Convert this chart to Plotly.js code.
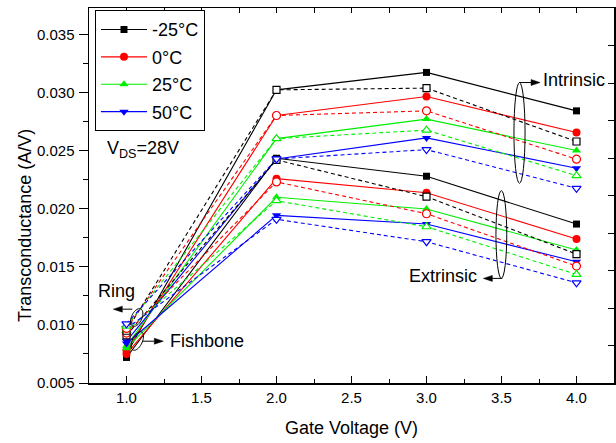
<!DOCTYPE html>
<html>
<head>
<meta charset="utf-8">
<script src="https://cdn.plot.ly/plotly-3.0.1.min.js"></script>
<style>
  html, body { margin: 0; padding: 0; background: #ffffff; }
  #chart { width: 616px; height: 443px; }
</style>
</head>
<body>
<div id="chart"></div>
<script>
// ---------------- data ----------------
const gateVoltage = [1.0, 2.0, 3.0, 4.0];
const tempLabels = ['-25°C', '0°C', '25°C', '50°C'];

// Intrinsic, fishbone device (solid lines, filled markers)
const intFishM25 = [0.0075, 0.03025, 0.03175, 0.02844];
const intFish0   = [0.0078, 0.02804, 0.02968, 0.02657];
const intFish25  = [0.0082, 0.02605, 0.02773, 0.02502];
const intFish50  = [0.0086, 0.02430, 0.02611, 0.02350];
// Intrinsic, ring device (dashed lines, open markers)
const intRingM25 = [0.0095, 0.03025, 0.03040, 0.02580];
const intRing0   = [0.0097, 0.02804, 0.02844, 0.02428];
const intRing25  = [0.0099, 0.02605, 0.02678, 0.02286];
const intRing50  = [0.0101, 0.02430, 0.02510, 0.02177];
// Extrinsic, fishbone device
const extFishM25 = [0.0072, 0.02436, 0.02281, 0.01869];
const extFish0   = [0.0075, 0.02260, 0.02139, 0.01740];
const extFish25  = [0.0080, 0.02100, 0.01999, 0.01645];
const extFish50  = [0.0084, 0.01944, 0.01869, 0.01544];
// Extrinsic, ring device
const extRingM25 = [0.0091, 0.02422, 0.02105, 0.01610];
const extRing0   = [0.0093, 0.02232, 0.01958, 0.01507];
const extRing25  = [0.0095, 0.02070, 0.01846, 0.01435];
const extRing50  = [0.0097, 0.01910, 0.01717, 0.01363];

// ---------------- styles ----------------
const colors = ['#000000', '#ff0000', '#00ee00', '#0000ff'];
const symbols = ['square', 'circle', 'triangle-up', 'triangle-down'];
const sizes = [7, 8, 8, 8];
const FONT = 'Liberation Sans, Arial, Helvetica, sans-serif';

const intFish = [intFishM25, intFish0, intFish25, intFish50];
const intRing = [intRingM25, intRing0, intRing25, intRing50];
const extFish = [extFishM25, extFish0, extFish25, extFish50];
const extRing = [extRingM25, extRing0, extRing25, extRing50];

function solidTrace(y, i, legend) {
  return {
    x: gateVoltage, y: y, type: 'scatter', mode: 'lines+markers',
    name: tempLabels[i], showlegend: legend, legendgroup: 'g' + i,
    line: { color: colors[i], width: 1.1 },
    marker: { symbol: symbols[i], size: sizes[i], color: colors[i], line: { width: 0 } },
    hoverinfo: 'x+y+name'
  };
}
function dashTrace(y, i) {
  return {
    x: gateVoltage, y: y, type: 'scatter', mode: 'lines+markers',
    name: tempLabels[i] + ' ring', showlegend: false, legendgroup: 'g' + i,
    line: { color: colors[i], width: 1.1, dash: '4px,3px' },
    marker: { symbol: symbols[i], size: sizes[i], color: '#ffffff', line: { color: colors[i], width: 1.2 } },
    hoverinfo: 'x+y+name'
  };
}

const traces = [];
for (let i = 0; i < 4; i++) traces.push(solidTrace(intFish[i], i, true));
for (let i = 0; i < 4; i++) traces.push(solidTrace(extFish[i], i, false));
for (let i = 0; i < 4; i++) traces.push(dashTrace(extRing[i], i));
for (let i = 0; i < 4; i++) traces.push(dashTrace(intRing[i], i));
// empty trace to carry the mirrored top / right frame axes
traces.push({ x: [], y: [], xaxis: 'x2', yaxis: 'y2', type: 'scatter', showlegend: false, hoverinfo: 'skip' });

// ---------------- layout helpers ----------------
const X_RANGE = [0.75, 4.25];
const Y_RANGE = [0.005, 0.0373];
const PLOT_W = 525, PLOT_H = 375;
const dxPerPx = (X_RANGE[1] - X_RANGE[0]) / PLOT_W;
const dyPerPx = (Y_RANGE[1] - Y_RANGE[0]) / PLOT_H;

// tilted ellipse path, centre in data units, radii in pixels
function ellipsePath(cx, cy, rxPx, ryPx, angDeg) {
  const a = angDeg * Math.PI / 180;
  let p = '';
  for (let k = 0; k <= 48; k++) {
    const t = 2 * Math.PI * k / 48;
    const ex = rxPx * Math.cos(t), ey = ryPx * Math.sin(t);
    const rx = ex * Math.cos(a) + ey * Math.sin(a);
    const ry = -ex * Math.sin(a) + ey * Math.cos(a);
    const X = cx + rx * dxPerPx, Y = cy + ry * dyPerPx;
    p += (k === 0 ? 'M' : 'L') + X.toFixed(5) + ',' + Y.toFixed(6);
  }
  return p + 'Z';
}
// horizontal arrow: head at (hx, hy) in data units, tail lenPx pixels away (dir +1 = tail to the right)
function arrowShapes(hx, hy, lenPx, dir) {
  const headLen = 9, headHalf = 3;
  const tailX = hx + dir * lenPx * dxPerPx;
  const baseX = hx + dir * headLen * dxPerPx;
  return [
    { type: 'line', xref: 'x', yref: 'y', x0: tailX, y0: hy, x1: baseX, y1: hy, line: { color: '#000', width: 1 } },
    { type: 'path', xref: 'x', yref: 'y',
      path: 'M' + hx + ',' + hy + 'L' + baseX + ',' + (hy + headHalf * dyPerPx) + 'L' + baseX + ',' + (hy - headHalf * dyPerPx) + 'Z',
      fillcolor: '#000', line: { color: '#000', width: 0.5 } }
  ];
}

const axFont = { family: FONT, size: 15, color: '#000' };
const txtFont = { family: FONT, size: 18, color: '#000' };

const shapes = [
  { type: 'circle', xref: 'x', yref: 'y', x0: 3.583, x1: 3.657, y0: 0.0222, y1: 0.03088, line: { color: '#000', width: 1 } },
  { type: 'circle', xref: 'x', yref: 'y', x0: 3.463, x1: 3.535, y0: 0.01401, y1: 0.02157, line: { color: '#000', width: 1 } },
  { type: 'path', xref: 'x', yref: 'y', path: ellipsePath(1.068, 0.01064, 5.2, 9.5, 25), line: { color: '#000', width: 1 } },
  { type: 'path', xref: 'x', yref: 'y', path: ellipsePath(1.072, 0.00862, 5.0, 10, 25), line: { color: '#000', width: 1 } }
].concat(
  arrowShapes(3.757, 0.03088, 21, -1),
  arrowShapes(3.379, 0.01401, 19, 1),
  arrowShapes(0.912, 0.01136, 19, 1),
  arrowShapes(1.2453, 0.0086, 21, -1)
);

const layout = {
  width: 616, height: 443,
  margin: { l: 89, r: 2, t: 8, b: 60, pad: 0 },
  paper_bgcolor: '#ffffff', plot_bgcolor: '#ffffff',
  font: { family: FONT, color: '#000' },
  showlegend: true,
  legend: {
    x: 0.0114, y: 0.994, xanchor: 'left', yanchor: 'top',
    bgcolor: '#ffffff', bordercolor: '#000000', borderwidth: 1,
    font: txtFont, tracegroupgap: 1, itemwidth: 46
  },
  xaxis: {
    range: X_RANGE, tick0: 1, dtick: 0.5, tickformat: '.1f',
    ticks: 'inside', ticklen: 7, tickwidth: 1, tickcolor: '#000',
    minor: { dtick: 0.25, tick0: 1, ticks: 'inside', ticklen: 4, tickwidth: 1, tickcolor: '#000', showgrid: false },
    showline: true, linewidth: 1.5, linecolor: '#000', mirror: false,
    showgrid: false, zeroline: false, tickfont: axFont,
    title: { text: 'Gate Voltage (V)', font: txtFont, standoff: 17 }
  },
  yaxis: {
    range: Y_RANGE, tick0: 0.005, dtick: 0.005, tickformat: '.3f',
    ticks: 'outside', ticklen: 9, tickwidth: 1, tickcolor: '#000',
    minor: { dtick: 0.0025, tick0: 0.005, ticks: 'outside', ticklen: 5, tickwidth: 1, tickcolor: '#000', showgrid: false },
    showline: true, linewidth: 1.5, linecolor: '#000', mirror: false,
    showgrid: false, zeroline: false, tickfont: axFont, ticklabelstandoff: 1
  },
  xaxis2: {
    overlaying: 'x', side: 'top', anchor: 'y2', range: X_RANGE, tick0: 1, dtick: 0.25,
    ticks: 'inside', ticklen: 5, tickwidth: 1, tickcolor: '#000', showticklabels: false,
    showline: true, linewidth: 1.5, linecolor: '#000', showgrid: false, zeroline: false
  },
  yaxis2: {
    overlaying: 'y', side: 'right', anchor: 'x2', range: [0, 10], tick0: 0, dtick: 1,
    ticks: 'inside', ticklen: 6, tickwidth: 1, tickcolor: '#000', showticklabels: false,
    showline: true, linewidth: 1.5, linecolor: '#000', showgrid: false, zeroline: false
  },
  shapes: shapes,
  annotations: [
    { xref: 'paper', yref: 'paper', x: -0.122, y: 0.421, text: 'Transconductance (A/V)', textangle: -90,
      showarrow: false, font: txtFont, xanchor: 'center', yanchor: 'middle' },
    { xref: 'paper', yref: 'paper', x: 0.030, y: 0.622, text: 'V<sub>DS</sub>=28V',
      showarrow: false, font: txtFont, xanchor: 'left', yanchor: 'middle' },
    { xref: 'x', yref: 'y', x: 3.763, y: 0.03112, text: 'Intrinsic', showarrow: false, font: txtFont, xanchor: 'left', yanchor: 'middle' },
    { xref: 'x', yref: 'y', x: 3.347, y: 0.0142, text: 'Extrinsic', showarrow: false, font: txtFont, xanchor: 'right', yanchor: 'middle' },
    { xref: 'x', yref: 'y', x: 0.935, y: 0.01294, text: 'Ring', showarrow: false, font: txtFont, xanchor: 'center', yanchor: 'middle' },
    { xref: 'x', yref: 'y', x: 1.2767, y: 0.0086, text: 'Fishbone', showarrow: false, font: txtFont, xanchor: 'left', yanchor: 'middle' }
  ]
};

Plotly.newPlot('chart', traces, layout, { displayModeBar: false, staticPlot: true });
</script>
</body>
</html>
